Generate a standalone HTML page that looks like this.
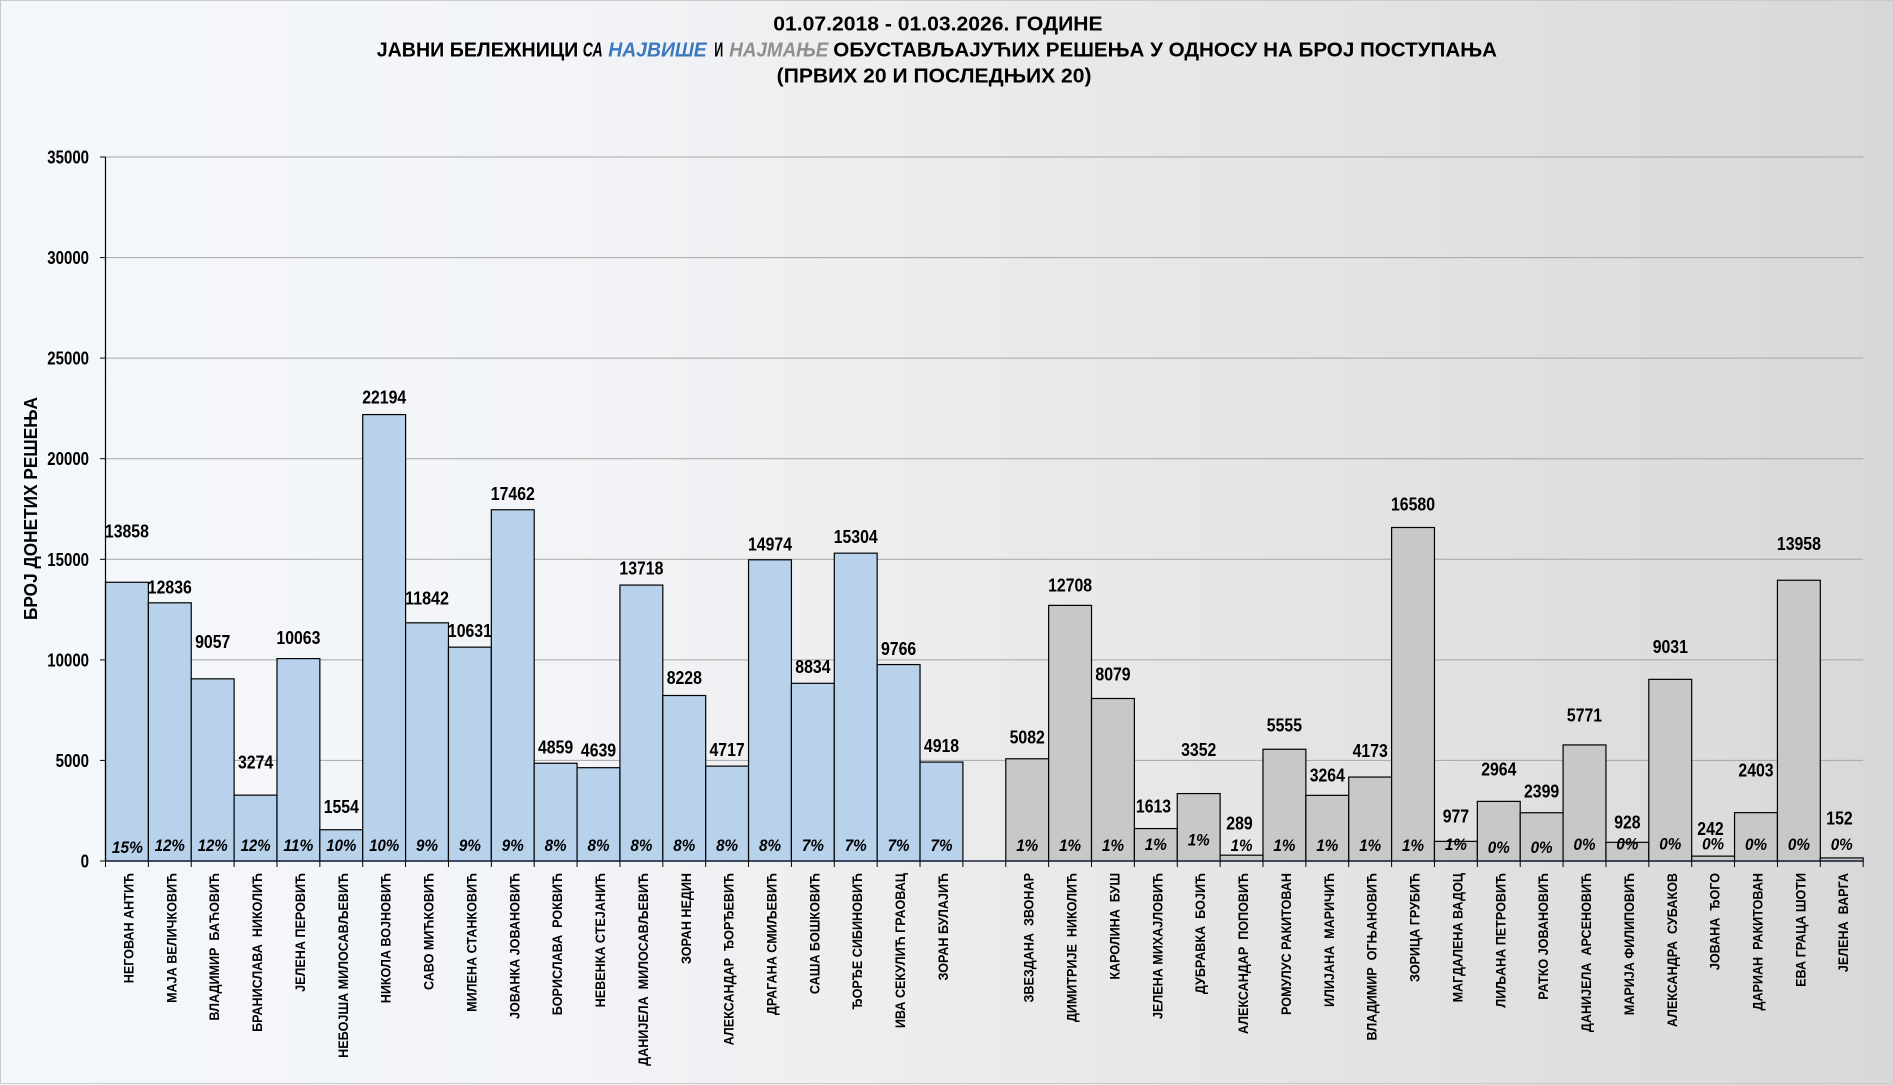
<!DOCTYPE html>
<html><head><meta charset="utf-8">
<style>
html,body{margin:0;padding:0;}
svg{display:block;}
text{white-space:pre;font-family:"Liberation Sans","DejaVu Sans",sans-serif;font-weight:bold;fill:#000;}
.v{font-size:18px;}
.p{font-size:17px;font-style:italic;}
.c{font-size:14px;}
.t{font-size:20px;}
</style></head>
<body>
<svg width="1894" height="1085" viewBox="0 0 1894 1085" xmlns="http://www.w3.org/2000/svg">
<defs>
<linearGradient id="bg" x1="0" y1="0" x2="1" y2="0">
<stop offset="0" stop-color="#f5f8fb"/>
<stop offset="0.3" stop-color="#f2f4f7"/>
<stop offset="0.52" stop-color="#eaebec"/>
<stop offset="1" stop-color="#d8d8d8"/>
</linearGradient>
</defs>
<rect x="0" y="0" width="1894" height="1085" fill="url(#bg)"/>
<rect x="0.5" y="0.5" width="1893" height="1083" fill="none" stroke="#c8cacc" stroke-width="1"/>

<!-- title -->
<text class="t" x="773.3" y="30.7" textLength="329.3" lengthAdjust="spacingAndGlyphs">01.07.2018 - 01.03.2026. ГОДИНЕ</text>
<text class="t" x="376.7" y="56.7" textLength="201.6" lengthAdjust="spacingAndGlyphs">ЈАВНИ БЕЛЕЖНИЦИ</text>
<text class="t" x="582.7" y="56.7" textLength="20" lengthAdjust="spacingAndGlyphs" style="font-style:italic">СА</text>
<text class="t" x="608.3" y="56.7" textLength="98.4" lengthAdjust="spacingAndGlyphs" style="font-style:italic;fill:#3a78c0">НАЈВИШЕ</text>
<text class="t" x="714.3" y="56.7" textLength="9" lengthAdjust="spacingAndGlyphs">И</text>
<text class="t" x="729.3" y="56.7" textLength="99" lengthAdjust="spacingAndGlyphs" style="font-style:italic;fill:#8f8f8f">НАЈМАЊЕ</text>
<text class="t" x="833.3" y="56.7" textLength="663.7" lengthAdjust="spacingAndGlyphs">ОБУСТАВЉАЈУЋИХ РЕШЕЊА У ОДНОСУ НА БРОЈ ПОСТУПАЊА</text>
<text class="t" x="776.7" y="82.5" textLength="314.8" lengthAdjust="spacingAndGlyphs">(ПРВИХ 20 И ПОСЛЕДЊИХ 20)</text>

<!-- y-axis title -->
<text class="v" transform="translate(37,508.5) rotate(-90)" text-anchor="middle" textLength="223" lengthAdjust="spacingAndGlyphs">БРОЈ ДОНЕТИХ РЕШЕЊА</text>

<!-- gridlines -->
<g stroke="#a6a6a6" stroke-width="1">
<line x1="105.5" x2="1863.2" y1="157" y2="157"/>
<line x1="105.5" x2="1863.2" y1="257.6" y2="257.6"/>
<line x1="105.5" x2="1863.2" y1="358.1" y2="358.1"/>
<line x1="105.5" x2="1863.2" y1="458.7" y2="458.7"/>
<line x1="105.5" x2="1863.2" y1="559.3" y2="559.3"/>
<line x1="105.5" x2="1863.2" y1="659.9" y2="659.9"/>
<line x1="105.5" x2="1863.2" y1="760.4" y2="760.4"/>
</g>

<!-- y ticks -->
<g stroke="#000" stroke-width="1">
<line x1="100" x2="105.5" y1="157" y2="157"/>
<line x1="100" x2="105.5" y1="257.6" y2="257.6"/>
<line x1="100" x2="105.5" y1="358.1" y2="358.1"/>
<line x1="100" x2="105.5" y1="458.7" y2="458.7"/>
<line x1="100" x2="105.5" y1="559.3" y2="559.3"/>
<line x1="100" x2="105.5" y1="659.9" y2="659.9"/>
<line x1="100" x2="105.5" y1="760.4" y2="760.4"/>
<line x1="100" x2="105.5" y1="861" y2="861"/>
</g>
<g class="v" text-anchor="end">
<text x="89" y="163.5" textLength="41.7" lengthAdjust="spacingAndGlyphs">35000</text>
<text x="89" y="264.1" textLength="41.7" lengthAdjust="spacingAndGlyphs">30000</text>
<text x="89" y="364.6" textLength="41.7" lengthAdjust="spacingAndGlyphs">25000</text>
<text x="89" y="465.2" textLength="41.7" lengthAdjust="spacingAndGlyphs">20000</text>
<text x="89" y="565.8" textLength="41.7" lengthAdjust="spacingAndGlyphs">15000</text>
<text x="89" y="666.4" textLength="41.7" lengthAdjust="spacingAndGlyphs">10000</text>
<text x="89" y="766.9" textLength="33.4" lengthAdjust="spacingAndGlyphs">5000</text>
<text x="89" y="867.5" textLength="8.4" lengthAdjust="spacingAndGlyphs">0</text>
</g>

<!-- bars -->
<g stroke="#000" stroke-width="1.2" fill="#b7d2ea">
<rect x="105.50" y="582.25" width="42.87" height="278.75"/>
<rect x="148.37" y="602.81" width="42.87" height="258.19"/>
<rect x="191.24" y="678.82" width="42.87" height="182.18"/>
<rect x="234.11" y="795.15" width="42.87" height="65.85"/>
<rect x="276.98" y="658.59" width="42.87" height="202.41"/>
<rect x="319.85" y="829.74" width="42.87" height="31.26"/>
<rect x="362.72" y="414.58" width="42.87" height="446.42"/>
<rect x="405.59" y="622.81" width="42.87" height="238.19"/>
<rect x="448.46" y="647.16" width="42.87" height="213.84"/>
<rect x="491.33" y="509.76" width="42.87" height="351.24"/>
<rect x="534.20" y="763.26" width="42.87" height="97.74"/>
<rect x="577.07" y="767.69" width="42.87" height="93.31"/>
<rect x="619.94" y="585.07" width="42.87" height="275.93"/>
<rect x="662.81" y="695.50" width="42.87" height="165.50"/>
<rect x="705.68" y="766.12" width="42.87" height="94.88"/>
<rect x="748.55" y="559.81" width="42.87" height="301.19"/>
<rect x="791.42" y="683.31" width="42.87" height="177.69"/>
<rect x="834.29" y="553.17" width="42.87" height="307.83"/>
<rect x="877.16" y="664.56" width="42.87" height="196.44"/>
<rect x="920.03" y="762.08" width="42.87" height="98.92"/>
</g>
<g stroke="#000" stroke-width="1.2" fill="#c8c8c8">
<rect x="1005.77" y="758.78" width="42.87" height="102.22"/>
<rect x="1048.64" y="605.39" width="42.87" height="255.61"/>
<rect x="1091.51" y="698.50" width="42.87" height="162.50"/>
<rect x="1134.38" y="828.56" width="42.87" height="32.44"/>
<rect x="1177.25" y="793.58" width="42.87" height="67.42"/>
<rect x="1220.12" y="855.19" width="42.87" height="5.81"/>
<rect x="1262.99" y="749.27" width="42.87" height="111.73"/>
<rect x="1305.86" y="795.35" width="42.87" height="65.65"/>
<rect x="1348.73" y="777.06" width="42.87" height="83.94"/>
<rect x="1391.60" y="527.50" width="42.87" height="333.50"/>
<rect x="1434.47" y="841.35" width="42.87" height="19.65"/>
<rect x="1477.34" y="801.38" width="42.87" height="59.62"/>
<rect x="1520.21" y="812.75" width="42.87" height="48.25"/>
<rect x="1563.08" y="744.92" width="42.87" height="116.08"/>
<rect x="1605.95" y="842.33" width="42.87" height="18.67"/>
<rect x="1648.82" y="679.35" width="42.87" height="181.65"/>
<rect x="1691.69" y="856.13" width="42.87" height="4.87"/>
<rect x="1734.56" y="812.67" width="42.87" height="48.33"/>
<rect x="1777.43" y="580.24" width="42.87" height="280.76"/>
<rect x="1820.30" y="857.94" width="42.87" height="3.06"/>
</g>

<!-- axes -->
<line x1="105.5" x2="105.5" y1="157" y2="861" stroke="#000" stroke-width="1.2"/>
<line x1="105.5" x2="1863.2" y1="861" y2="861" stroke="#1c2640" stroke-width="1.6"/>
<path stroke="#000" stroke-width="1" fill="none" d="M105.5 861V867M148.37 861V867M191.24 861V867M234.11 861V867M276.98 861V867M319.85 861V867M362.72 861V867M405.59 861V867M448.46 861V867M491.33 861V867M534.2 861V867M577.07 861V867M619.94 861V867M662.81 861V867M705.68 861V867M748.55 861V867M791.42 861V867M834.29 861V867M877.16 861V867M920.03 861V867M962.9 861V867M1005.77 861V867M1048.64 861V867M1091.51 861V867M1134.38 861V867M1177.25 861V867M1220.12 861V867M1262.99 861V867M1305.86 861V867M1348.73 861V867M1391.6 861V867M1434.47 861V867M1477.34 861V867M1520.21 861V867M1563.08 861V867M1605.95 861V867M1648.82 861V867M1691.69 861V867M1734.56 861V867M1777.43 861V867M1820.3 861V867M1863.17 861V867"/>

<!-- value labels -->
<g class="v" text-anchor="middle">
<text x="126.9" y="537.5" textLength="44" lengthAdjust="spacingAndGlyphs">13858</text>
<text x="169.8" y="593.6" textLength="44" lengthAdjust="spacingAndGlyphs">12836</text>
<text x="212.7" y="648.2" textLength="35.2" lengthAdjust="spacingAndGlyphs">9057</text>
<text x="255.6" y="768.7" textLength="35.2" lengthAdjust="spacingAndGlyphs">3274</text>
<text x="298.4" y="644" textLength="44" lengthAdjust="spacingAndGlyphs">10063</text>
<text x="341.3" y="813" textLength="35.2" lengthAdjust="spacingAndGlyphs">1554</text>
<text x="384.2" y="403.7" textLength="44" lengthAdjust="spacingAndGlyphs">22194</text>
<text x="427.0" y="604.7" textLength="44" lengthAdjust="spacingAndGlyphs">11842</text>
<text x="469.9" y="637.1" textLength="44" lengthAdjust="spacingAndGlyphs">10631</text>
<text x="512.8" y="500.1" textLength="44" lengthAdjust="spacingAndGlyphs">17462</text>
<text x="555.6" y="753.4" textLength="35.2" lengthAdjust="spacingAndGlyphs">4859</text>
<text x="598.5" y="756.7" textLength="35.2" lengthAdjust="spacingAndGlyphs">4639</text>
<text x="641.4" y="574.7" textLength="44" lengthAdjust="spacingAndGlyphs">13718</text>
<text x="684.3" y="684.2" textLength="35.2" lengthAdjust="spacingAndGlyphs">8228</text>
<text x="727.1" y="756.2" textLength="35.2" lengthAdjust="spacingAndGlyphs">4717</text>
<text x="770.0" y="550.7" textLength="44" lengthAdjust="spacingAndGlyphs">14974</text>
<text x="812.9" y="673.1" textLength="35.2" lengthAdjust="spacingAndGlyphs">8834</text>
<text x="855.7" y="543" textLength="44" lengthAdjust="spacingAndGlyphs">15304</text>
<text x="898.6" y="655.1" textLength="35.2" lengthAdjust="spacingAndGlyphs">9766</text>
<text x="941.5" y="752" textLength="35.2" lengthAdjust="spacingAndGlyphs">4918</text>
<text x="1027.2" y="743.7" textLength="35.2" lengthAdjust="spacingAndGlyphs">5082</text>
<text x="1070.1" y="591.5" textLength="44" lengthAdjust="spacingAndGlyphs">12708</text>
<text x="1113.0" y="680.7" textLength="35.2" lengthAdjust="spacingAndGlyphs">8079</text>
<text x="1153.5" y="812.7" textLength="35.2" lengthAdjust="spacingAndGlyphs">1613</text>
<text x="1198.7" y="756.2" textLength="35.2" lengthAdjust="spacingAndGlyphs">3352</text>
<text x="1239.5" y="829.5" textLength="26.4" lengthAdjust="spacingAndGlyphs">289</text>
<text x="1284.4" y="731.3" textLength="35.2" lengthAdjust="spacingAndGlyphs">5555</text>
<text x="1327.3" y="781.7" textLength="35.2" lengthAdjust="spacingAndGlyphs">3264</text>
<text x="1370.2" y="756.9" textLength="35.2" lengthAdjust="spacingAndGlyphs">4173</text>
<text x="1413.0" y="510.5" textLength="44" lengthAdjust="spacingAndGlyphs">16580</text>
<text x="1455.9" y="822.7" textLength="26.4" lengthAdjust="spacingAndGlyphs">977</text>
<text x="1498.8" y="775.7" textLength="35.2" lengthAdjust="spacingAndGlyphs">2964</text>
<text x="1541.6" y="797.7" textLength="35.2" lengthAdjust="spacingAndGlyphs">2399</text>
<text x="1584.5" y="721.6" textLength="35.2" lengthAdjust="spacingAndGlyphs">5771</text>
<text x="1627.4" y="828.7" textLength="26.4" lengthAdjust="spacingAndGlyphs">928</text>
<text x="1670.3" y="653.1" textLength="35.2" lengthAdjust="spacingAndGlyphs">9031</text>
<text x="1710.5" y="835.1" textLength="26.4" lengthAdjust="spacingAndGlyphs">242</text>
<text x="1756.0" y="776.7" textLength="35.2" lengthAdjust="spacingAndGlyphs">2403</text>
<text x="1798.9" y="550" textLength="44" lengthAdjust="spacingAndGlyphs">13958</text>
<text x="1839.5" y="824.7" textLength="26.4" lengthAdjust="spacingAndGlyphs">152</text>
</g>

<!-- percent labels -->
<g class="p" text-anchor="middle">
<text x="127.4" y="853" textLength="31" lengthAdjust="spacingAndGlyphs">15%</text>
<text x="169.8" y="851" textLength="30" lengthAdjust="spacingAndGlyphs">12%</text>
<text x="212.7" y="851" textLength="30" lengthAdjust="spacingAndGlyphs">12%</text>
<text x="255.6" y="851" textLength="30" lengthAdjust="spacingAndGlyphs">12%</text>
<text x="298.4" y="851" textLength="30" lengthAdjust="spacingAndGlyphs">11%</text>
<text x="341.3" y="851" textLength="30" lengthAdjust="spacingAndGlyphs">10%</text>
<text x="384.2" y="851" textLength="30" lengthAdjust="spacingAndGlyphs">10%</text>
<text x="427.0" y="851" textLength="22" lengthAdjust="spacingAndGlyphs">9%</text>
<text x="469.9" y="851" textLength="22" lengthAdjust="spacingAndGlyphs">9%</text>
<text x="512.8" y="851" textLength="22" lengthAdjust="spacingAndGlyphs">9%</text>
<text x="555.6" y="851" textLength="22" lengthAdjust="spacingAndGlyphs">8%</text>
<text x="598.5" y="851" textLength="22" lengthAdjust="spacingAndGlyphs">8%</text>
<text x="641.4" y="851" textLength="22" lengthAdjust="spacingAndGlyphs">8%</text>
<text x="684.3" y="851" textLength="22" lengthAdjust="spacingAndGlyphs">8%</text>
<text x="727.1" y="851" textLength="22" lengthAdjust="spacingAndGlyphs">8%</text>
<text x="770.0" y="851" textLength="22" lengthAdjust="spacingAndGlyphs">8%</text>
<text x="812.9" y="851" textLength="22" lengthAdjust="spacingAndGlyphs">7%</text>
<text x="855.7" y="851" textLength="22" lengthAdjust="spacingAndGlyphs">7%</text>
<text x="898.6" y="851" textLength="22" lengthAdjust="spacingAndGlyphs">7%</text>
<text x="941.5" y="851" textLength="22" lengthAdjust="spacingAndGlyphs">7%</text>
<text x="1027.2" y="851" textLength="22" lengthAdjust="spacingAndGlyphs">1%</text>
<text x="1070.1" y="851" textLength="22" lengthAdjust="spacingAndGlyphs">1%</text>
<text x="1113.0" y="851" textLength="22" lengthAdjust="spacingAndGlyphs">1%</text>
<text x="1155.8" y="850" textLength="22" lengthAdjust="spacingAndGlyphs">1%</text>
<text x="1198.7" y="845.5" textLength="22" lengthAdjust="spacingAndGlyphs">1%</text>
<text x="1241.6" y="851" textLength="22" lengthAdjust="spacingAndGlyphs">1%</text>
<text x="1284.4" y="851" textLength="22" lengthAdjust="spacingAndGlyphs">1%</text>
<text x="1327.3" y="851" textLength="22" lengthAdjust="spacingAndGlyphs">1%</text>
<text x="1370.2" y="851" textLength="22" lengthAdjust="spacingAndGlyphs">1%</text>
<text x="1413.0" y="851" textLength="22" lengthAdjust="spacingAndGlyphs">1%</text>
<text x="1455.9" y="850" textLength="22" lengthAdjust="spacingAndGlyphs">1%</text>
<text x="1498.8" y="853" textLength="22" lengthAdjust="spacingAndGlyphs">0%</text>
<text x="1541.6" y="853" textLength="22" lengthAdjust="spacingAndGlyphs">0%</text>
<text x="1584.5" y="850" textLength="22" lengthAdjust="spacingAndGlyphs">0%</text>
<text x="1627.4" y="849.5" textLength="22" lengthAdjust="spacingAndGlyphs">0%</text>
<text x="1670.3" y="849.5" textLength="22" lengthAdjust="spacingAndGlyphs">0%</text>
<text x="1713.1" y="849.5" textLength="22" lengthAdjust="spacingAndGlyphs">0%</text>
<text x="1756.0" y="850" textLength="22" lengthAdjust="spacingAndGlyphs">0%</text>
<text x="1798.9" y="850" textLength="22" lengthAdjust="spacingAndGlyphs">0%</text>
<text x="1841.7" y="850" textLength="22" lengthAdjust="spacingAndGlyphs">0%</text>
</g>

<!-- category labels -->
<g class="c" text-anchor="end">
<text transform="translate(133.4,873) rotate(-90) scale(0.9,1)">НЕГОВАН АНТИЋ</text>
<text transform="translate(176.3,873) rotate(-90) scale(0.9,1)">МАЈА ВЕЛИЧКОВИЋ</text>
<text transform="translate(219.2,873) rotate(-90) scale(0.9,1)">ВЛАДИМИР  БАЋОВИЋ</text>
<text transform="translate(262.1,873) rotate(-90) scale(0.9,1)">БРАНИСЛАВА  НИКОЛИЋ</text>
<text transform="translate(304.9,873) rotate(-90) scale(0.9,1)">ЈЕЛЕНА ПЕРОВИЋ</text>
<text transform="translate(347.8,873) rotate(-90) scale(0.9,1)">НЕБОЈША МИЛОСАВЉЕВИЋ</text>
<text transform="translate(390.7,873) rotate(-90) scale(0.9,1)">НИКОЛА ВОЈНОВИЋ</text>
<text transform="translate(433.5,873) rotate(-90) scale(0.9,1)">САВО МИЋКОВИЋ</text>
<text transform="translate(476.4,873) rotate(-90) scale(0.9,1)">МИЛЕНА СТАНКОВИЋ</text>
<text transform="translate(519.3,873) rotate(-90) scale(0.9,1)">ЈОВАНКА ЈОВАНОВИЋ</text>
<text transform="translate(562.1,873) rotate(-90) scale(0.9,1)">БОРИСЛАВА  РОКВИЋ</text>
<text transform="translate(605.0,873) rotate(-90) scale(0.9,1)">НЕВЕНКА СТЕЈАНИЋ</text>
<text transform="translate(647.9,873) rotate(-90) scale(0.9,1)">ДАНИЈЕЛА  МИЛОСАВЉЕВИЋ</text>
<text transform="translate(690.8,873) rotate(-90) scale(0.9,1)">ЗОРАН НЕДИН</text>
<text transform="translate(733.6,873) rotate(-90) scale(0.9,1)">АЛЕКСАНДАР  ЂОРЂЕВИЋ</text>
<text transform="translate(776.5,873) rotate(-90) scale(0.9,1)">ДРАГАНА СМИЉЕВИЋ</text>
<text transform="translate(819.4,873) rotate(-90) scale(0.9,1)">САША БОШКОВИЋ</text>
<text transform="translate(862.2,873) rotate(-90) scale(0.9,1)">ЂОРЂЕ СИБИНОВИЋ</text>
<text transform="translate(905.1,873) rotate(-90) scale(0.9,1)">ИВА СЕКУЛИЋ ГРАОВАЦ</text>
<text transform="translate(948.0,873) rotate(-90) scale(0.9,1)">ЗОРАН БУЛАЈИЋ</text>
<text transform="translate(1033.7,873) rotate(-90) scale(0.9,1)">ЗВЕЗДАНА  ЗВОНАР</text>
<text transform="translate(1076.6,873) rotate(-90) scale(0.9,1)">ДИМИТРИЈЕ  НИКОЛИЋ</text>
<text transform="translate(1119.5,873) rotate(-90) scale(0.9,1)">КАРОЛИНА  БУШ</text>
<text transform="translate(1162.3,873) rotate(-90) scale(0.9,1)">ЈЕЛЕНА МИХАЈЛОВИЋ</text>
<text transform="translate(1205.2,873) rotate(-90) scale(0.9,1)">ДУБРАВКА  БОЈИЋ</text>
<text transform="translate(1248.1,873) rotate(-90) scale(0.9,1)">АЛЕКСАНДАР  ПОПОВИЋ</text>
<text transform="translate(1290.9,873) rotate(-90) scale(0.9,1)">РОМУЛУС РАКИТОВАН</text>
<text transform="translate(1333.8,873) rotate(-90) scale(0.9,1)">ИЛИЈАНА  МАРИЧИЋ</text>
<text transform="translate(1376.7,873) rotate(-90) scale(0.9,1)">ВЛАДИМИР  ОГЊАНОВИЋ</text>
<text transform="translate(1419.5,873) rotate(-90) scale(0.9,1)">ЗОРИЦА ГРУБИЋ</text>
<text transform="translate(1462.4,873) rotate(-90) scale(0.9,1)">МАГДАЛЕНА ВАДОЦ</text>
<text transform="translate(1505.3,873) rotate(-90) scale(0.9,1)">ЛИЉАНА ПЕТРОВИЋ</text>
<text transform="translate(1548.2,873) rotate(-90) scale(0.9,1)">РАТКО ЈОВАНОВИЋ</text>
<text transform="translate(1591.0,873) rotate(-90) scale(0.9,1)">ДАНИЈЕЛА  АРСЕНОВИЋ</text>
<text transform="translate(1633.9,873) rotate(-90) scale(0.9,1)">МАРИЈА ФИЛИПОВИЋ</text>
<text transform="translate(1676.8,873) rotate(-90) scale(0.9,1)">АЛЕКСАНДРА  СУБАКОВ</text>
<text transform="translate(1719.6,873) rotate(-90) scale(0.9,1)">ЈОВАНА  ЂОГО</text>
<text transform="translate(1762.5,873) rotate(-90) scale(0.9,1)">ДАРИАН  РАКИТОВАН</text>
<text transform="translate(1805.4,873) rotate(-90) scale(0.9,1)">ЕВА ГРАЦА ШОТИ</text>
<text transform="translate(1848.2,873) rotate(-90) scale(0.9,1)">ЈЕЛЕНА  ВАРГА</text>
</g>
</svg>
</body></html>
